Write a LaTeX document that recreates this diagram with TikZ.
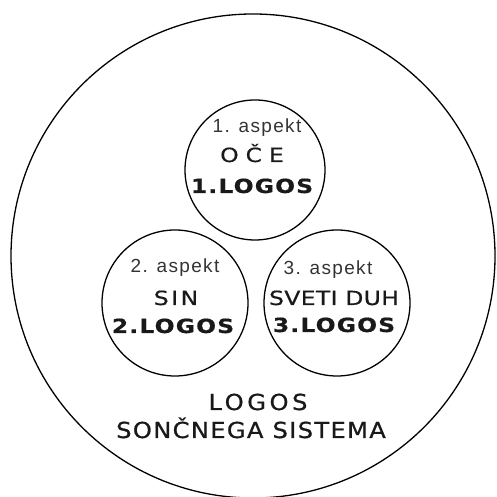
\documentclass[tikz,border=0pt]{standalone}
\usepackage{fontspec}
\setmainfont{DejaVu Sans}
\newfontfamily\aspfont[LetterSpace=7]{Liberation Sans}
\newfontfamily\namefont[FakeStretch=1.2,FakeBold=0.6]{DejaVu Sans}
\newfontfamily\sisfont[FakeStretch=1.1,FakeBold=0.8]{DejaVu Sans}
\usetikzlibrary{positioning}

\begin{document}
\begin{tikzpicture}[x=1pt,y=1pt,
    krog/.style={draw,circle,line width=1.3pt,inner sep=0pt},
    asp/.style={anchor=base,text=black!80,font=\aspfont\fontsize{19}{19}\selectfont},
    ime/.style={anchor=base,text=black!90,font=\namefont\fontsize{19.5}{19.5}\selectfont},
    logo/.style={anchor=base,text=black!90,font=\namefont\bfseries\fontsize{19.5}{19.5}\selectfont\addfontfeature{LetterSpace=6}},
    sis/.style={anchor=base,text=black!90,font=\sisfont\fontsize{22}{22}\selectfont}
  ]
  \useasboundingbox (0,0) rectangle (497,497);
  \node[krog,minimum size=484pt] (sistem) at (253,241) {};
  \foreach \n/\x/\y/\r in {oce/255/327/140, sin/175/194/146, duh/337/194/146}{
    \node[krog,minimum size=\r pt] (\n) at (\x,\y) {};
  }
  % prvi aspekt
  \node[asp] (asp1) at (257,364) {1. aspekt};
  \node[ime] (ime1) at (252,335) {\addfontfeature{LetterSpace=36}OČE};
  \node[logo] (log1) at (252,304) {1.LOGOS};
  % drugi aspekt
  \node[asp] (asp2) at (175,224) {2. aspekt};
  \node[ime] (ime2) at (176,192) {\addfontfeature{LetterSpace=13}SIN};
  \node[logo] (log2) at (173,164) {2.LOGOS};
  % tretji aspekt
  \node[asp] (asp3) at (328,222) {3. aspekt};
  \node[ime] (ime3) at (334,192) {\addfontfeature{LetterSpace=2}SVETI DUH};
  \node[logo] (log3) at (334,165) {3.LOGOS};
  % logos sistema
  \node[sis] (logos) at (258,87) {\addfontfeature{LetterSpace=16}LOGOS};
  \node[sis] (sistema) at (251,59) {\addfontfeature{LetterSpace=6}SONČNEGA SISTEMA};
\end{tikzpicture}
\end{document}
